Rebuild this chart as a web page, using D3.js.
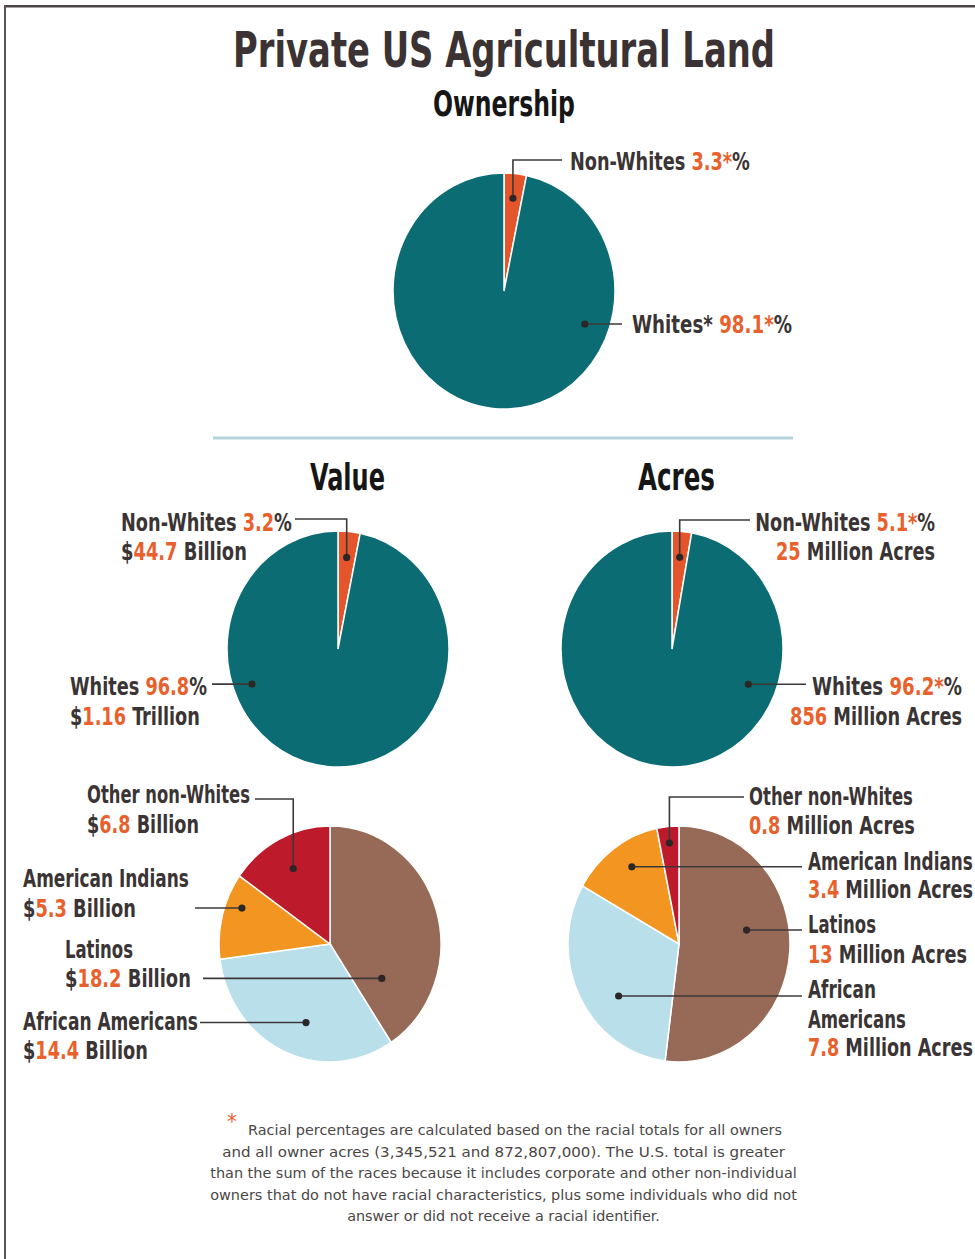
<!DOCTYPE html>
<html>
<head>
<meta charset="utf-8">
<script src="https://cdn.jsdelivr.net/npm/d3@7"></script>
<style>
  html, body { margin: 0; padding: 0; background: #fff; }
  svg { display: block; }
</style>
</head>
<body>
<div id="chart"></div>
<script>
// shares drawn by each pie (clockwise from 12 o'clock)
const ownershipShare = [
  { name: "Non-Whites", value: 3.3 },
  { name: "Whites", value: 98.1 },
];
const valueShare = [
  { name: "Non-Whites", value: 3.2 },
  { name: "Whites", value: 96.8 },
];
// million acres
const acresTotals = [
  { name: "Non-Whites", value: 25 },
  { name: "Whites", value: 856 },
];
// $ billion, non-white groups
const valueByGroup = [
  { name: "Latinos", value: 18.2 },
  { name: "African Americans", value: 14.4 },
  { name: "American Indians", value: 5.3 },
  { name: "Other non-Whites", value: 6.8 },
];
// million acres, non-white groups
const acresByGroup = [
  { name: "Latinos", value: 13 },
  { name: "African Americans", value: 7.8 },
  { name: "American Indians", value: 3.4 },
  { name: "Other non-Whites", value: 0.8 },
];
// label texts, {..} = orange part
const ownershipLabels = ["Non-Whites {3.3*}%", "Whites* {98.1*}%"];
const valueLabels = [["Non-Whites {3.2}%", "${44.7} Billion"], ["Whites {96.8}%", "${1.16} Trillion"]];
const acresLabels = [["Non-Whites {5.1*}%", "{25} Million Acres"], ["Whites {96.2*}%", "{856} Million Acres"]];
const valueGroupLabels = [
  ["Latinos", "${18.2} Billion"],
  ["African Americans", "${14.4} Billion"],
  ["American Indians", "${5.3} Billion"],
  ["Other non-Whites", "${6.8} Billion"],
];
const acresGroupLabels = [
  ["Latinos", "{13} Million Acres"],
  ["African", "Americans", "{7.8} Million Acres"],
  ["American Indians", "{3.4} Million Acres"],
  ["Other non-Whites", "{0.8} Million Acres"],
];
const footnote = [
  "Racial percentages are calculated based on the racial totals for all owners",
  "and all owner acres (3,345,521 and 872,807,000). The U.S. total is greater",
  "than the sum of the races because it includes corporate and other non-individual",
  "owners that do not have racial characteristics, plus some individuals who did not",
  "answer or did not receive a racial identifier.",
];

(() => {
  const W = 975, H = 1259;
  const R = 111, SY = 118 / 111;          // pies are slightly taller than wide
  const INK = "#3a3434", ORANGE = "#e8612c";
  const COND = `"Liberation Sans Narrow","DejaVu Sans Condensed","Roboto Condensed",sans-serif`;
  const COL = {
    "Non-Whites": "#e5552b", "Whites": "#0b6c73",
    "Latinos": "#966a56", "African Americans": "#b9dfea",
    "American Indians": "#f39521", "Other non-Whites": "#bd1b2c",
  };

  const svg = d3.select("#chart").append("svg")
    .attr("width", W).attr("height", H).attr("viewBox", `0 0 ${W} ${H}`);

  // squeeze a text horizontally so it spans w px (the print face is very condensed)
  const fit = (t, x, y, w) => {
    const L = t.node().getComputedTextLength() || w;
    t.attr("x", 0).attr("y", 0).attr("transform", `translate(${x},${y}) scale(${w / L},1)`);
    return t;
  };

  // frame: top + left rule
  svg.append("rect").attr("x", 4).attr("y", 5).attr("width", W - 4).attr("height", 2.5).attr("fill", "#4a4444");
  svg.append("rect").attr("x", 4).attr("y", 5).attr("width", 2).attr("height", H - 5).attr("fill", "#5a5555");

  // headings
  const head = (t, x, y, size, w, fill) => fit(svg.append("text")
    .attr("text-anchor", "middle")
    .attr("style", `font:bold ${size}px ${COND};fill:${fill}`).text(t), x, y, w);
  head("Private US Agricultural Land", 504, 67, 50, 542, "#3b3333");
  head("Ownership", 504, 116, 35, 142, "#161616");
  head("Value", 347.5, 490, 37, 75, "#161616");
  head("Acres", 676.5, 490, 37, 77, "#161616");

  // divider
  svg.append("line").attr("x1", 213).attr("x2", 793).attr("y1", 438).attr("y2", 438)
    .attr("stroke", "#b3d4dc").attr("stroke-width", 3);

  const pie = d3.pie().sort(null).value(d => d.value);
  const arc = d3.arc().innerRadius(0).outerRadius(R);

  // one pie + its call-outs. note: {ang (deg, null = slice middle), rf, up, to, lines:[{x,y,w,anchor}]}
  function drawPie(data, cx, cy, notes, texts) {
    const arcs = pie(data);
    const g = svg.append("g").attr("transform", `translate(${cx},${cy}) scale(1,${SY})`);
    g.selectAll("path").data(arcs).join("path")
      .attr("d", arc)
      .attr("fill", d => COL[d.data.name])
      .attr("stroke", "#fff").attr("stroke-width", 1.5)
      .attr("vector-effect", "non-scaling-stroke");

    notes.forEach((n, i) => {
      const a = arcs[i];
      const th = n.ang == null ? (a.startAngle + a.endAngle) / 2 : n.ang * Math.PI / 180;
      const px = cx + R * n.rf * Math.sin(th);
      const py = cy - R * n.rf * Math.cos(th) * SY;
      const d = n.up != null ? `M${px},${py}V${n.up}H${n.to}` : `M${px},${py}H${n.to}`;
      svg.append("path").attr("d", d).attr("fill", "none")
        .attr("stroke", "#3c3838").attr("stroke-width", 1.6);
      svg.append("circle").attr("cx", px).attr("cy", py).attr("r", 3.6).attr("fill", "#2b2727");

      const txt = [].concat(texts[i]);
      n.lines.forEach((ln, j) => {
        const t = svg.append("text")
          .attr("text-anchor", ln.anchor || "start")
          .attr("style", `font:bold 24px ${COND};fill:${INK}`);
        txt[j].split(/(\{[^}]*\})/).filter(s => s).forEach(s => {
          const hi = s[0] === "{";
          t.append("tspan").attr("fill", hi ? ORANGE : INK).text(hi ? s.slice(1, -1) : s);
        });
        fit(t, ln.x, ln.y, ln.w);
      });
    });
  }

  drawPie(ownershipShare, 504, 291, [
    { ang: null, rf: 0.79, up: 160, to: 562, lines: [{ x: 570, y: 170, w: 180 }] },
    { ang: 111, rf: 0.78, to: 622, lines: [{ x: 632, y: 333, w: 160 }] },
  ], ownershipLabels);

  drawPie(valueShare, 338, 649, [
    { ang: null, rf: 0.78, up: 519, to: 295, lines: [{ x: 121, y: 531, w: 171 }, { x: 121, y: 560, w: 126 }] },
    { ang: 249, rf: 0.83, to: 212, lines: [{ x: 70, y: 695, w: 137 }, { x: 70, y: 725, w: 130 }] },
  ], valueLabels);

  drawPie(acresTotals, 672, 649, [
    { ang: null, rf: 0.78, up: 520, to: 750, lines: [{ x: 935, y: 531, w: 180, anchor: "end" }, { x: 935, y: 560, w: 159, anchor: "end" }] },
    { ang: 113.5, rf: 0.75, to: 806, lines: [{ x: 962, y: 695, w: 150, anchor: "end" }, { x: 962, y: 725, w: 172, anchor: "end" }] },
  ], acresLabels);

  drawPie(valueByGroup, 330, 944, [
    { ang: 122, rf: 0.55, to: 203, lines: [{ x: 65, y: 958, w: 68 }, { x: 65, y: 987, w: 126 }] },
    { ang: 198, rf: 0.70, to: 200, lines: [{ x: 23, y: 1030, w: 175 }, { x: 23, y: 1059, w: 125 }] },
    { ang: 291, rf: 0.85, to: 195, lines: [{ x: 23, y: 887, w: 166 }, { x: 23, y: 917, w: 113 }] },
    { ang: null, rf: 0.72, up: 799, to: 255, lines: [{ x: 87, y: 803, w: 163 }, { x: 87, y: 833, w: 112 }] },
  ], valueGroupLabels);

  drawPie(acresByGroup, 679, 944, [
    { ang: 79, rf: 0.62, to: 802, lines: [{ x: 808, y: 933, w: 68 }, { x: 808, y: 963, w: 159 }] },
    { ang: 231, rf: 0.70, to: 802, lines: [{ x: 808, y: 998, w: 68 }, { x: 808, y: 1028, w: 98 }, { x: 808, y: 1056, w: 165 }] },
    { ang: 327, rf: 0.78, to: 802, lines: [{ x: 808, y: 870, w: 165 }, { x: 808, y: 898, w: 165 }] },
    { ang: null, rf: 0.86, up: 797, to: 744, lines: [{ x: 749, y: 805, w: 164 }, { x: 749, y: 834, w: 166 }] },
  ], acresGroupLabels);

  // footnote
  svg.append("text").attr("x", 232).attr("y", 1129).attr("text-anchor", "middle")
    .attr("style", `font:22px ${COND};fill:${ORANGE}`).text("*");
  const FN = [
    { x: 515, y: 1135, w: 534 }, { x: 503.5, y: 1157, w: 563 }, { x: 503.5, y: 1178, w: 587 },
    { x: 503.5, y: 1200, w: 587 }, { x: 503.5, y: 1221, w: 313 },
  ];
  footnote.forEach((s, i) => fit(svg.append("text")
    .attr("text-anchor", "middle")
    .attr("style", `font:14.5px ${COND};fill:#4a4646`).text(s), FN[i].x, FN[i].y, FN[i].w));
})();
</script>
</body>
</html>
